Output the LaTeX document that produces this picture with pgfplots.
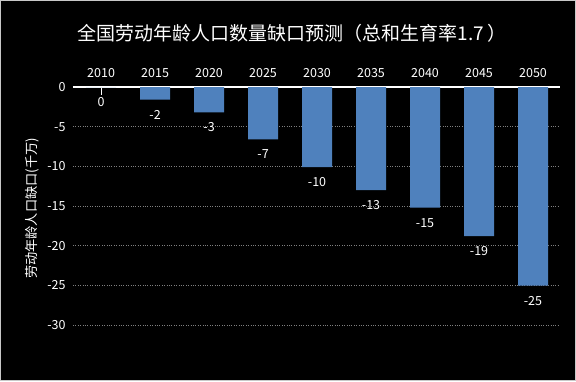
\documentclass[border=0pt]{standalone}
\usepackage{pgfplots}
\pgfplotsset{compat=1.18}
\usepackage{fontspec}
\setmainfont{Noto Sans CJK SC}
\definecolor{barblue}{RGB}{79,129,189}
\definecolor{framegray}{RGB}{200,200,200}
\begin{document}
\begin{tikzpicture}
\fill[black] (0,0) rectangle (576pt,381pt);
\draw[framegray, line width=1pt] (0.5pt,0.5pt) rectangle (575.5pt,380.5pt);
\useasboundingbox (0,0) rectangle (576pt,381pt);
\node[white, font=\fontsize{19}{22}\selectfont] at (292pt,348pt) {全国劳动年龄人口数量缺口预测（总和生育率1.7\,）};
\begin{axis}[
  at={(73pt,56pt)}, anchor=south west,
  scale only axis, width=487pt, height=238pt,
  ymin=-30, ymax=0, xmin=-0.52, xmax=8.5,
  ytick={-30,-25,-20,-15,-10,-5,0},
  xtick={0,1,2,3,4,5,6,7,8},
  xticklabels={2010,2015,2020,2025,2030,2035,2040,2045,2050},
  axis x line*=top, axis y line*=left,
  x axis line style={white, line width=1.2pt},
  y axis line style={draw=none},
  major tick length=0pt,
  tick style={draw=none},
  ymajorgrids,
  grid style={gray, dotted, line width=0.6pt},
  /pgf/number format/assume math mode=true,
  ticklabel style={white, font=\fontsize{12.5}{14}\selectfont},
  yticklabel style={xshift=-4pt},
  xticklabel style={yshift=6pt},
  ylabel={劳动年龄人口缺口(千万)},
  every axis y label/.style={at={(axis description cs:-0.084,0.49)}, rotate=90, anchor=center, white, font=\fontsize{13.2}{15}\selectfont},
  extra x ticks={0},
  extra x tick labels={},
  extra x tick style={tick style={draw=white, line width=0.8pt}, major tick length=8pt, tick align=inside},
]
\addplot[ybar, bar width=30pt, fill=barblue, draw=none,
  nodes near coords={\pgfmathprintnumber[fixed,precision=0]{\pgfplotspointmeta}},
  every node near coord/.append style={anchor=north, yshift=-7pt, white, font=\fontsize{12.5}{14}\selectfont},
] coordinates {(0,0) (1,-1.6) (2,-3.2) (3,-6.6) (4,-10.1) (5,-13.0) (6,-15.2) (7,-18.8) (8,-25.05)};
\end{axis}
\end{tikzpicture}
\end{document}
